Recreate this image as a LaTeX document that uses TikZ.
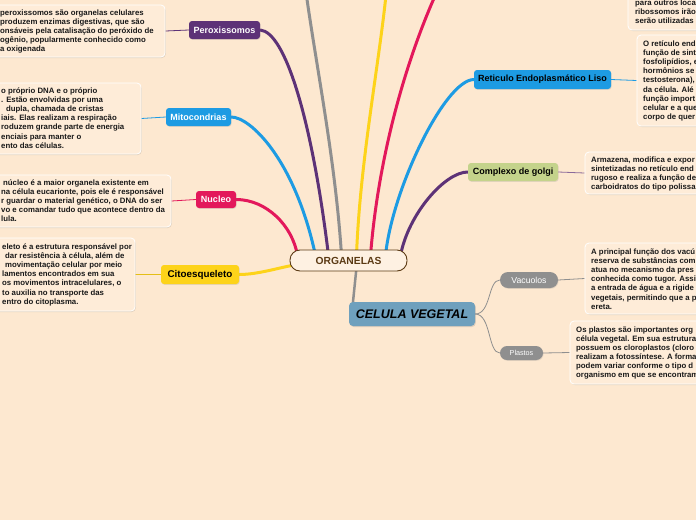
\documentclass[tikz,border=0pt]{standalone}
\usepackage{fontspec}
\setmainfont{Liberation Sans}
\usetikzlibrary{calc,shadows}
\definecolor{bgc}{HTML}{FDE8D0}
\definecolor{boxc}{HTML}{FEECD8}
\definecolor{purp}{HTML}{5D3277}
\definecolor{blu}{HTML}{1D9BE3}
\definecolor{pnk}{HTML}{E3185B}
\definecolor{yel}{HTML}{FDD31A}
\definecolor{gry}{HTML}{8F8F8F}
\definecolor{grn}{HTML}{C4D38B}
\definecolor{celc}{HTML}{6FA0BD}
\definecolor{orgf}{HTML}{FEF1E2}
\definecolor{brn}{HTML}{5B3A14}
\definecolor{lpurp}{HTML}{8A6A9A}
\pgfdeclarelayer{bglayer}
\pgfdeclarelayer{lines}
\pgfsetlayers{bglayer,lines,main}
\begin{document}
\begin{tikzpicture}[x=1pt,y=-1pt,
  lbl/.style={rounded corners=3pt,inner sep=0pt,font=\fontsize{9}{11}\selectfont\bfseries,
    drop shadow={shadow xshift=0.6pt,shadow yshift=-0.8pt,opacity=0.2}},
  tbox/.style={draw=white,line width=0.8pt,fill=boxc,rounded corners=4pt,inner sep=0pt,
    drop shadow={shadow xshift=0.8pt,shadow yshift=-1pt,opacity=0.22}},
  ttext/.style={inner sep=0pt,align=left,anchor=north west,text=black!90,font=\fontsize{7.8}{9.1}\selectfont\bfseries},
  branch/.style={line width=3pt,line cap=round},
  twig/.style={line width=0.8pt},
]
\useasboundingbox (0,0) rectangle (696,520);
\begin{pgfonlayer}{bglayer}
\fill[bgc] (0,0) rectangle (696,520);
\end{pgfonlayer}

% central nodes
\node[draw=brn,line width=0.9pt,fill=orgf,rounded corners=10pt,minimum width=117pt,minimum height=21pt,inner sep=0pt,font=\fontsize{10.3}{12}\selectfont\bfseries,text=brn] (org) at (348.5,260.5) {ORGANELAS};
\node[fill=celc,rounded corners=4pt,minimum width=126pt,minimum height=24pt,inner sep=0pt,font=\fontsize{12.5}{14}\selectfont\bfseries\itshape,
  drop shadow={shadow xshift=0.8pt,shadow yshift=-1pt,opacity=0.25}] (cel) at (412,314) {CELULA VEGETAL};

% labels
\node[lbl,fill=purp,text=white,minimum width=71pt,minimum height=18pt] (perox) at (224.5,30) {Peroxissomos};
\node[lbl,fill=blu,text=white,minimum width=65pt,minimum height=18pt] (mito) at (198.5,117) {Mitocondrias};
\node[lbl,fill=pnk,text=white,minimum width=40pt,minimum height=17pt] (nuc) at (216,199.5) {Nucleo};
\node[lbl,fill=yel,text=black,minimum width=78pt,minimum height=19pt,font=\fontsize{9.8}{11}\selectfont\bfseries] (cito) at (200,274.5) {Citoesqueleto};
\node[lbl,fill=blu,text=black,minimum width=137pt,minimum height=19pt] (reti) at (542.5,79.5) {Reticulo Endoplasmático Liso};
\node[lbl,fill=grn,text=black,minimum width=90pt,minimum height=18pt] (golgi) at (513,172) {Complexo de golgi};
\node[lbl,fill=gry,text=white,rounded corners=8pt,minimum width=58pt,minimum height=16pt,font=\fontsize{8.7}{10}\selectfont] (vac) at (529,280) {Vacuolos};
\node[lbl,fill=gry,text=white,rounded corners=7pt,minimum width=43pt,minimum height=14pt,font=\fontsize{7.2}{9}\selectfont] (plas) at (521.5,353) {Plastos};

% text boxes
\node[tbox,minimum width=171pt,minimum height=52pt] (b1) at (79.5,31) {};
\node[ttext] (t1) at (0,9) {\strut peroxissomos são organelas celulares\\produzem enzimas digestivas, que são\\onsáveis pela catalisação do peróxido de\\ogênio, popularmente conhecido como\\a oxigenada};

\node[tbox,minimum width=147pt,minimum height=71pt] (b2) at (67.5,118.5) {};
\node[ttext] (t2) at (1,87) {\strut o próprio DNA e o próprio\\. Estão envolvidas por uma\\\hspace*{5pt}dupla, chamada de cristas\\iais. Elas realizam a respiração\\roduzem grande parte de energia\\enciais para manter o\\ento das células.};

\node[tbox,minimum width=177pt,minimum height=52pt] (b3) at (82.5,201) {};
\node[ttext] (t3) at (1,178.6) {\strut\hspace*{2pt}núcleo é a maior organela existente em\\na célula eucarionte, pois ele é responsável\\r guardar o material genético, o DNA do ser\\vo e comandar tudo que acontece dentro da\\lula.};

\node[tbox,minimum width=141pt,minimum height=73pt] (b4) at (64.5,274.5) {};
\node[ttext] (t4) at (2,243) {\strut eleto é a estrutura responsável por\\\hspace*{3pt}dar resistência à célula, além de\\\hspace*{3pt}movimentação celular por meio\\lamentos encontrados em sua\\os movimentos intracelulares, o\\to auxilia no transporte das\\entro do citoplasma.};

\node[tbox,minimum width=102pt,minimum height=70pt] (b5) at (679,-5) {};
\node[ttext] (t5) at (635,-1) {\strut para outros locai\\ribossomos irão\\serão utilizadas};

\node[tbox,minimum width=93pt,minimum height=91pt] (b6) at (683.5,80.5) {};
\node[ttext] (t6) at (643,40) {\strut O retículo end\\função de sint\\fosfolipídios, e\\hormônios se\\testosterona),\\da célula. Alé\\função import\\celular e a que\\corpo de quer};

\node[tbox,minimum width=145pt,minimum height=42pt] (b7) at (657.5,173) {};
\node[ttext] (t7) at (591,156) {\strut Armazena, modifica e expor\\sintetizadas no retículo end\\rugoso e realiza a função de\\carboidratos do tipo polissa};

\node[tbox,minimum width=145pt,minimum height=71pt] (b8) at (657.5,278.5) {};
\node[ttext] (t8) at (591,248) {\strut A principal função dos vacú\\reserva de substâncias com\\atua no mecanismo da pres\\conhecida como tugor. Assi\\a entrada de água e a rigide\\vegetais, permitindo que a p\\ereta.};

\node[tbox,minimum width=160pt,minimum height=63pt] (b9) at (650,352.5) {};
\node[ttext] (t9) at (576,325.5) {\strut Os plastos são importantes org\\célula vegetal. Em sua estrutura\\possuem os cloroplastos (cloro\\realizam a fotossíntese. A forma\\podem variar conforme o tipo d\\organismo em que se encontram};

% off-picture ends
\coordinate (gtop) at (305,-15);
\coordinate (ytop) at (387,-15);
\coordinate (ptop) at (440,-15);

\begin{pgfonlayer}{lines}
\draw[branch,pnk] ($(org.north)+(-51,6)$) .. controls +(-5,-30) and +(30,0) .. (nuc.east);
\draw[branch,blu] ($(org.north)+(-33,6)$) .. controls +(-20.5,-96) and +(19,0) .. (mito.east);
\draw[branch,purp] ($(org.north)+(-20,6)$) .. controls +(-16.5,-136) and +(25,2) .. (perox.east);
\draw[branch,gry] ($(org.north)+(-7,6)$) .. controls +(-6,-96) and +(10,75) .. (gtop);
\draw[branch,yel] ($(org.north)+(8,6)$) .. controls +(3.5,-96) and +(-7,75) .. (ytop);
\draw[branch,pnk] ($(org.north)+(22,6)$) .. controls +(7.5,-96) and +(-35,75) .. (ptop);
\draw[branch,blu] ($(org.north)+(37,6)$) .. controls +(6.5,-66) and +(-29,0.5) .. (reti.west);
\draw[branch,purp] ($(org.north)+(52,6)$) .. controls +(7.5,-41) and +(-23,0) .. (golgi.west);
\draw[branch,yel] ($(org.west)+(8,4)$) .. controls +(-15,2) and +(20,0) .. (cito.east);
\draw[line width=2.5pt,gry] ($(cel.north west)+(4,2)$) -- ($(org.south)+(8,-4)$);
\draw[twig,gry] (cel.east) .. controls +(16,0) and +(-12,0) .. (vac.west);
\draw[twig,gry] (cel.east) .. controls +(16,0) and +(-12,0) .. (plas.west);
\draw[twig,purp] (perox.west) -- (b1.east);
\draw[twig,blu] (mito.west) -- (b2.east);
\draw[twig,pnk] (nuc.west) -- (b3.east);
\draw[twig,yel!90!black] (cito.west) -- (b4.east);
\draw[twig,blu] (reti.east) -- (b6.west);
\draw[twig,lpurp] (golgi.east) -- (b7.west);
\draw[twig,gry] (vac.east) -- (b8.west);
\draw[twig,gry] (plas.east) -- (b9.west);
\end{pgfonlayer}
\end{tikzpicture}
\end{document}
